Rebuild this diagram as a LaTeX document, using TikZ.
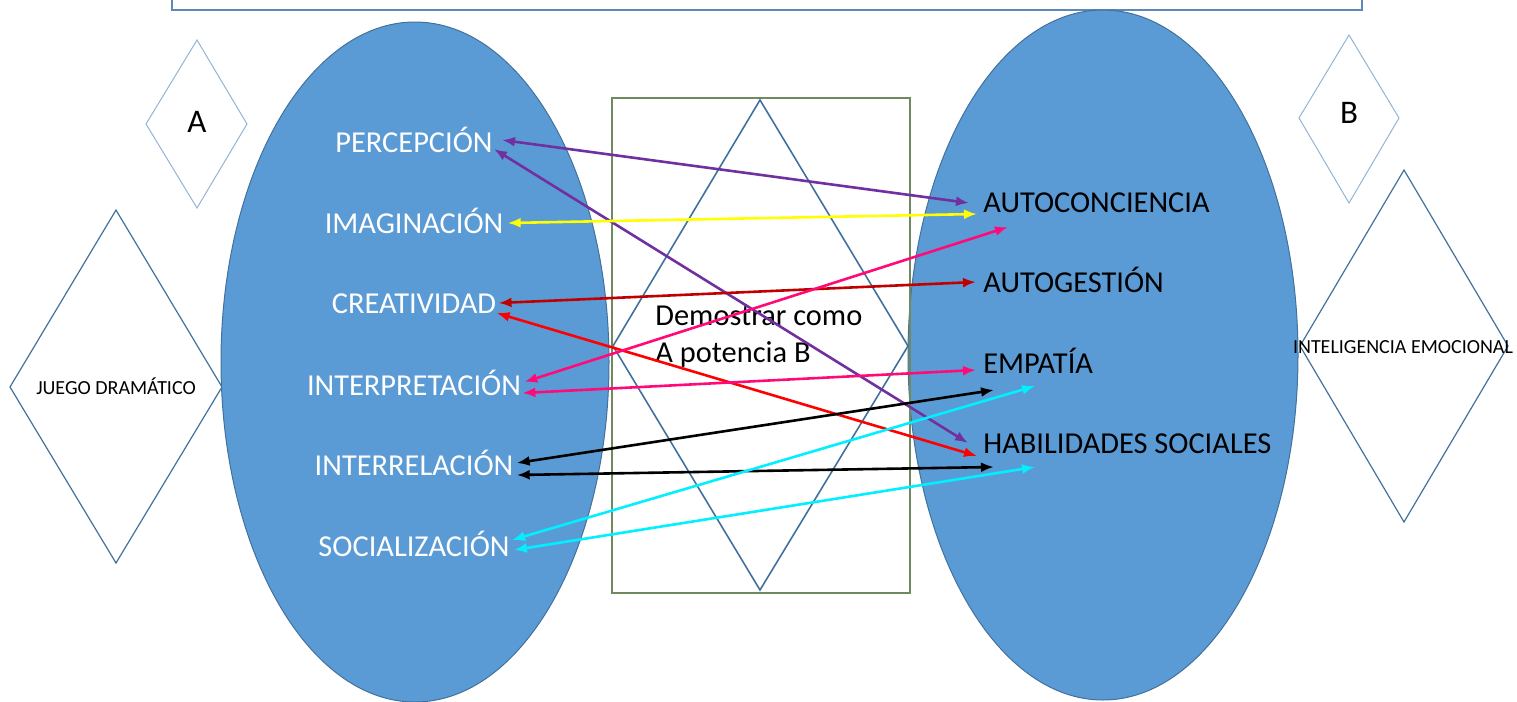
\documentclass[tikz,border=0pt]{standalone}
\usepackage{fontspec}
\setmainfont{Carlito}
\usetikzlibrary{arrows.meta}
\definecolor{azul}{HTML}{5B9BD5}
\definecolor{borde}{HTML}{41719C}
\definecolor{marco}{HTML}{5F88B8}
\definecolor{claro}{HTML}{94B3D6}
\definecolor{oliva}{HTML}{6F8A5E}
\definecolor{morado}{HTML}{7030A0}
\definecolor{amarillo}{HTML}{FFFF00}
\definecolor{rosa}{HTML}{FF0A78}
\definecolor{granate}{HTML}{C00000}
\definecolor{rojo}{HTML}{FF0000}
\definecolor{cian}{HTML}{00F0FF}
\tikzset{
    > = {Latex[length=6.5pt, width=5pt]},
    enlace/.style = {<->, line width=1.3pt},
    izq/.style = {anchor=base, text=white, inner sep=0pt, font=\fontsize{15.2}{18}\selectfont},
    der/.style = {anchor=base west, inner sep=0pt, font=\fontsize{15.2}{18}\selectfont},
    chico/.style = {anchor=base, inner sep=0pt, font=\fontsize{10}{12}\selectfont}
}
\begin{document}
\begin{tikzpicture}[x=0.5pt, y=-0.5pt]
    \useasboundingbox (0,0) rectangle (1517,702);
    \clip (0,0) rectangle (1517,702);

    \draw[marco, line width=0.8pt] (172,-20) rectangle (1362,10);

    \draw[claro, line width=0.5pt] (197,40) -- (247,124) -- (197,208) -- (146,124) -- cycle;
    \draw[claro, line width=0.5pt] (1349,35) -- (1399,118) -- (1349,203) -- (1299,118) -- cycle;
    \draw[borde, line width=0.6pt] (116,210) -- (222,387) -- (116,563) -- (10,387) -- cycle;
    \draw[borde, line width=0.6pt] (1404,170) -- (1508,346) -- (1404,522) -- (1300,346) -- cycle;

    \filldraw[fill=azul, draw=borde, line width=0.5pt] (415,362) ellipse [x radius=97pt, y radius=170pt];
    \filldraw[fill=azul, draw=borde, line width=0.5pt] (1103,355) ellipse [x radius=97.5pt, y radius=172.5pt];

    \draw[oliva, line width=0.6pt] (612,98) rectangle (910,593);
    \draw[borde, line width=0.8pt] (760,100) -- (908,346) -- (760,590) -- (613,346) -- cycle;

    \node[chico, font=\fontsize{16.5}{18}\selectfont] (a) at (197,132) {A};
    \node[chico, font=\fontsize{16.5}{18}\selectfont] (b) at (1349,123) {B};
    \node[chico] (jd) at (116,394) {JUEGO DRAMÁTICO};
    \node[chico] (ie) at (1403,353) {INTELIGENCIA EMOCIONAL};
    \node[anchor=north west, align=left, inner sep=0pt, font=\fontsize{15.2}{18.5}\selectfont] (dc) at (655,306) {Demostrar como\\A potencia B};

    \node[izq] (per) at (414,152) {PERCEPCIÓN};
    \node[izq] (ima) at (414,233) {IMAGINACIÓN};
    \node[izq] (cre) at (414,313) {CREATIVIDAD};
    \node[izq] (int) at (414,395) {INTERPRETACIÓN};
    \node[izq] (irl) at (414,475) {INTERRELACIÓN};
    \node[izq] (soc) at (414,556) {SOCIALIZACIÓN};

    \node[der] (auc) at (983,212) {AUTOCONCIENCIA};
    \node[der] (aug) at (983,292) {AUTOGESTIÓN};
    \node[der] (emp) at (983,373) {EMPATÍA};
    \node[der] (hab) at (983,453) {HABILIDADES SOCIALES};

    \draw ([shift={(9,-12)}]per.base east) edge[enlace, morado] ([shift={(-14,-9)}]auc.base west);
    \draw ([shift={(1,-3)}]per.base east) edge[enlace, morado] ([shift={(-15,-10)}]hab.base west);
    \draw ([shift={(4,-10)}]ima.base east) edge[enlace, amarillo] ([shift={(-6,2)}]auc.base west);
    \draw ([shift={(2,-10)}]cre.base east) edge[enlace, granate] ([shift={(-7,-10)}]aug.base west);
    \draw ([shift={(0,0)}]cre.base east) edge[enlace, rojo] ([shift={(-6,3)}]hab.base west);
    \draw ([shift={(3,-13)}]int.base east) edge[enlace, rosa] ([shift={(25,15)}]auc.base west);
    \draw ([shift={(1,-2)}]int.base east) edge[enlace, rosa] ([shift={(-7,-3)}]emp.base west);
    \draw ([shift={(3,-12)}]irl.base east) edge[enlace, black] ([shift={(11,17)}]emp.base west);
    \draw ([shift={(3,0)}]irl.base east) edge[enlace, black] ([shift={(11,14)}]hab.base west);
    \draw ([shift={(2,-16)}]soc.base east) edge[enlace, cian] ([shift={(52,13)}]emp.base west);
    \draw ([shift={(4,-6)}]soc.base east) edge[enlace, cian] ([shift={(52,14)}]hab.base west);
\end{tikzpicture}
\end{document}
